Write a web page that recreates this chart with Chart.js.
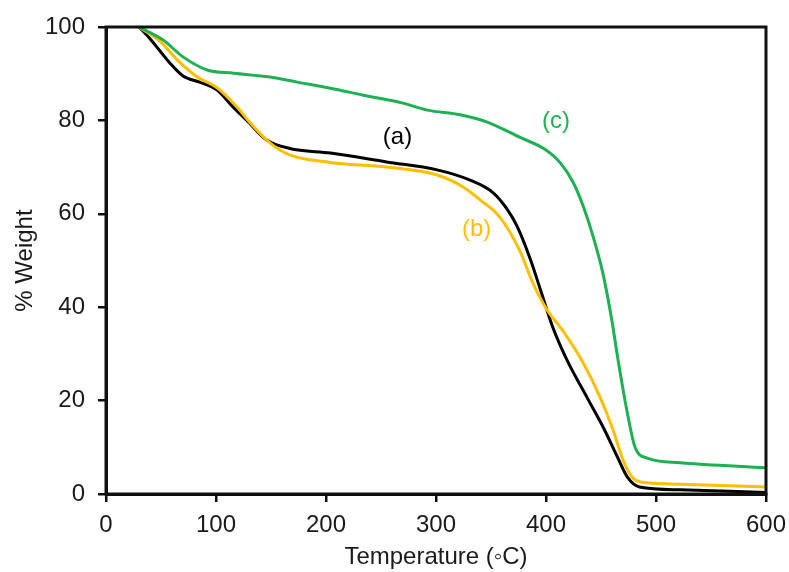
<!DOCTYPE html>
<html>
<head>
<meta charset="utf-8">
<script src="https://cdn.jsdelivr.net/npm/chart.js@4.4.0/dist/chart.umd.min.js"></script>
<style>
  html, body { margin: 0; padding: 0; background: #fff; }
  #wrap { width: 789px; height: 572px; }
</style>
</head>
<body>
<div id="wrap"><canvas id="tga" width="789" height="572"></canvas></div>
<script>
// Datos (temperatura en °C, % de peso)
const tempA = [30, 40, 58, 70, 85, 101, 115, 128, 146, 167, 204, 255, 301, 331, 352, 364, 374, 386, 395, 406, 419, 437, 452, 465, 474, 485, 522, 600];
const pesoA = [100, 97.5, 92.3, 89.5, 88.2, 86.5, 83, 80, 75.8, 74, 73, 71.1, 69.4, 67.2, 64.5, 61.2, 57.2, 50.1, 43.7, 35.8, 28.7, 20.8, 14.3, 7.9, 3.6, 1.5, 0.9, 0.3];

const tempB = [30, 49, 65, 83, 101, 119, 131, 149, 167, 204, 255, 301, 325, 340, 358, 376, 388, 401, 415, 434, 449, 461, 470, 479, 492, 522, 600];
const pesoB = [100, 97, 92.9, 89.3, 87, 82.9, 79.5, 75.2, 72.6, 71, 70, 68.3, 65.7, 63, 59.3, 52.2, 45.2, 39.4, 35.1, 28, 20.8, 13.7, 7.3, 3.4, 2.4, 2.1, 1.5];

const tempC = [30, 52, 70, 92, 116, 149, 174, 204, 234, 270, 292, 322, 346, 376, 399, 413, 425, 434, 443, 451, 455, 460, 466, 474, 481, 492, 522, 600];
const pesoC = [100, 97.2, 93.6, 90.8, 90.1, 89.3, 88.2, 86.9, 85.4, 83.7, 82.2, 81.2, 79.7, 76.4, 73.8, 70.9, 66.6, 61.5, 55, 48, 43.5, 37, 28, 17.3, 10, 7.7, 6.7, 5.6];

// Etiquetas de las curvas
const etiquetas = ['(a)', '(b)', '(c)'];
const etiquetaX = [265, 337, 409];
const etiquetaY = [76.4, 56.7, 79.7];
const colores = ['#000000', '#FFBF00', '#1DB154'];

const xTicks = [0, 100, 200, 300, 400, 500, 600];
const yTicks = [0, 20, 40, 60, 80, 100];

const FUENTE = "'Liberation Sans', Arial, sans-serif";

function puntos(xs, ys) {
    return xs.map((x, i) => ({ x: x, y: ys[i] }));
}

// Marco del área del gráfico y etiquetas (a), (b), (c)
const marcoPlugin = {
    id: 'marco',
    afterDatasetsDraw(chart) {
        const { ctx, chartArea, scales } = chart;
        ctx.save();
        ctx.font = '24px ' + FUENTE;
        ctx.textAlign = 'center';
        ctx.textBaseline = 'middle';
        etiquetas.forEach((t, i) => {
            ctx.fillStyle = colores[i];
            ctx.fillText(t, scales.x.getPixelForValue(etiquetaX[i]), scales.y.getPixelForValue(etiquetaY[i]));
        });
        ctx.strokeStyle = '#111';
        ctx.lineWidth = 3;
        ctx.strokeRect(chartArea.left, chartArea.top, chartArea.right - chartArea.left, chartArea.bottom - chartArea.top);
        ctx.restore();
    }
};

const ctx = document.getElementById('tga').getContext('2d');
new Chart(ctx, {
    type: 'line',
    data: {
        datasets: [
            { label: '(c)', data: puntos(tempC, pesoC), borderColor: colores[2] },
            { label: '(b)', data: puntos(tempB, pesoB), borderColor: colores[1] },
            { label: '(a)', data: puntos(tempA, pesoA), borderColor: colores[0] }
        ].map(d => Object.assign(d, {
            borderWidth: 3,
            pointRadius: 0,
            fill: false,
            cubicInterpolationMode: 'monotone'
        }))
    },
    options: {
        responsive: false,
        animation: false,
        layout: { padding: { left: 0, top: 27, right: 23, bottom: 0 } },
        plugins: {
            legend: { display: false },
            tooltip: { enabled: false }
        },
        scales: {
            x: {
                type: 'linear',
                min: 0,
                max: 600,
                afterBuildTicks: s => { s.ticks = xTicks.map(v => ({ value: v })); },
                afterFit: s => { s.height = 78; s.paddingLeft = 0; s.paddingRight = 0; },
                ticks: { color: '#1a1a1a', font: { family: FUENTE, size: 24 }, padding: 9, maxRotation: 0 },
                grid: { drawOnChartArea: false, drawTicks: true, tickLength: 8, color: '#111', lineWidth: 2.5 },
                border: { display: true, color: '#111', width: 3 },
                title: {
                    display: true,
                    text: 'Temperature (◦C)',
                    color: '#1a1a1a',
                    font: { family: FUENTE, size: 24 },
                    padding: { top: 6, bottom: 0 }
                }
            },
            y: {
                min: 0,
                max: 100,
                afterBuildTicks: s => { s.ticks = yTicks.map(v => ({ value: v })); },
                afterFit: s => { s.width = 106; s.paddingTop = 0; s.paddingBottom = 0; },
                ticks: { color: '#1a1a1a', font: { family: FUENTE, size: 24 }, padding: 13 },
                grid: { drawOnChartArea: false, drawTicks: true, tickLength: 8, color: '#111', lineWidth: 2.5 },
                border: { display: true, color: '#111', width: 3 },
                title: {
                    display: true,
                    text: '% Weight',
                    color: '#1a1a1a',
                    font: { family: FUENTE, size: 24 },
                    padding: { top: 11, bottom: 0 }
                }
            }
        }
    },
    plugins: [marcoPlugin]
});
</script>
</body>
</html>
